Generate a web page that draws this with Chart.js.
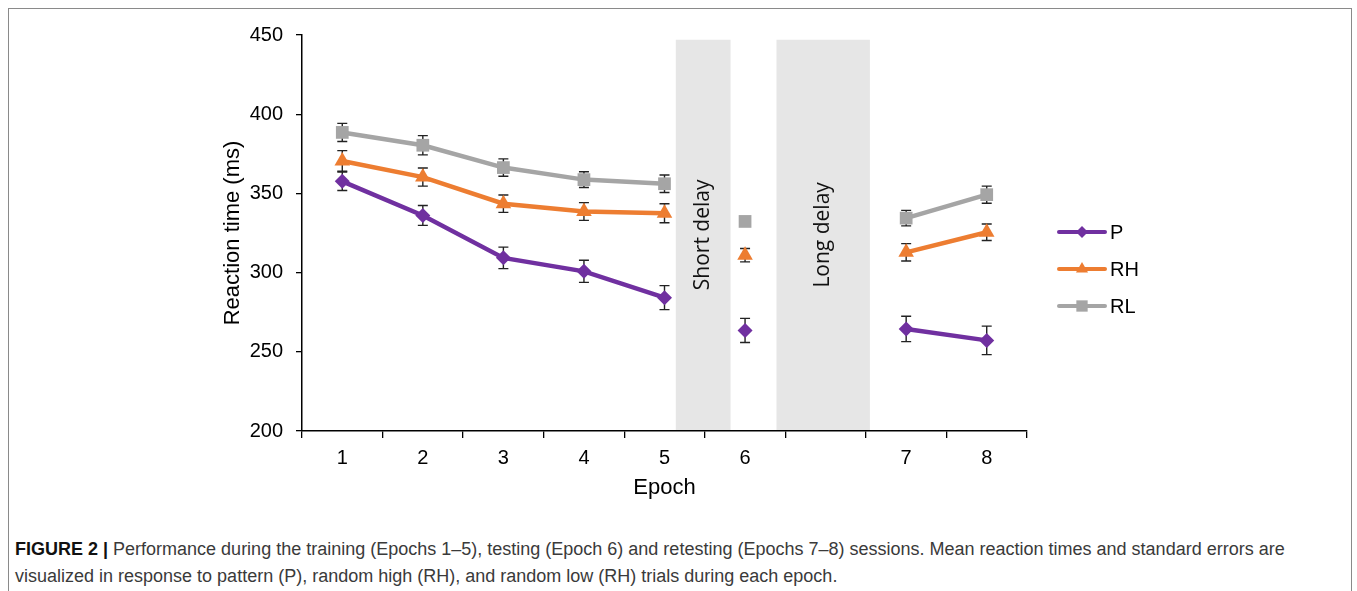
<!DOCTYPE html>
<html>
<head>
<meta charset="utf-8">
<script src="https://cdn.jsdelivr.net/npm/chart.js@4.4.1/dist/chart.umd.min.js"></script>
<style>
	html, body { margin: 0; padding: 0; background: #fff; }
	body { width: 1357px; height: 591px; position: relative; overflow: hidden; }
	#frame { position: absolute; left: 8px; top: 8px; width: 1344px; height: 620px; border: 1px solid #8a8a8a; box-sizing: border-box; }
	#chart-box { position: absolute; left: 0; top: 0; width: 1357px; height: 520px; }
	.caption { position: absolute; left: 15px; font: 18px "Liberation Sans", Arial, sans-serif; color: #3a3a3a; white-space: nowrap; line-height: 27px; }
	.caption b { color: #111; }
</style>
</head>
<body>
<div id="frame"></div>
<div id="chart-box"><canvas id="rt-chart"></canvas></div>
<div class="caption" style="top:536px"><b>FIGURE 2 |</b> Performance during the training (Epochs 1–5), testing (Epoch 6) and retesting (Epochs 7–8) sessions. Mean reaction times and standard errors are</div>
<div class="caption" style="top:563px">visualized in response to pattern (P), random high (RH), and random low (RH) trials during each epoch.</div>
<script>
const epochs = ['1', '2', '3', '4', '5', '6', '', '7', '8']
const sessions = ['train', 'train', 'train', 'train', 'train', 'test', null, 'retest', 'retest']

const pValues = [357.6, 336.1, 309.3, 300.8, 284.2, 263.5, null, 264.4, 257.2]
const pErrors = [5.8, 6.3, 6.8, 7.0, 7.6, 7.6, null, 8.0, 9.0]
const rhValues = [370.5, 360.3, 343.5, 338.6, 337.5, 311.0, null, 312.8, 325.5]
const rhErrors = [6.5, 5.7, 5.5, 5.6, 6.0, 4.2, null, 5.5, 5.2]
const rlValues = [388.5, 380.4, 366.3, 358.7, 356.1, 332.3, null, 334.4, 349.2]
const rlErrors = [5.7, 6.1, 5.5, 5.0, 5.5, 3.0, null, 4.9, 5.4]

// delay periods, in category index units
const delayLabels = ['Short delay', 'Long delay']
const delayStart = [4.14, 5.39]
const delayEnd = [4.82, 6.55]
const delayTop = 447

const yTicks = [200, 250, 300, 350, 400, 450]

const errors = [pErrors, rhErrors, rlErrors]

const makeSeries = (label, values, color, style, radius) => ({
	label: label,
	data: values,
	borderColor: color,
	backgroundColor: color,
	borderWidth: 4.5,
	pointStyle: style,
	pointRadius: radius,
	pointHoverRadius: radius,
	pointBorderWidth: 0,
	tension: 0,
	spanGaps: false,
	segment: {
		borderColor: (ctx) => sessions[ctx.p0DataIndex] !== sessions[ctx.p1DataIndex] ? 'rgba(0,0,0,0)' : undefined
	}
})

const backgroundPlugin = {
	id: 'delays',
	beforeDatasetsDraw(chart) {
		const { ctx, scales: { x, y } } = chart
		ctx.save()
		delayLabels.forEach((label, i) => {
			const left = x.getPixelForValue(delayStart[i])
			const right = x.getPixelForValue(delayEnd[i])
			const top = y.getPixelForValue(delayTop)
			const bottom = y.getPixelForValue(200) - 1
			ctx.fillStyle = '#e6e6e6'
			ctx.fillRect(left, top, right - left, bottom - top)
			ctx.save()
			ctx.translate((left + right) / 2, (top + bottom) / 2)
			ctx.rotate(-Math.PI / 2)
			ctx.fillStyle = '#111'
			ctx.font = '21px "Open Sans", "Noto Sans", sans-serif'
			ctx.textAlign = 'center'
			ctx.textBaseline = 'middle'
			ctx.fillText(label, 0, 0)
			ctx.restore()
		})
		// error bars
		ctx.strokeStyle = '#222'
		ctx.lineWidth = 1.4
		chart.data.datasets.forEach((ds, k) => {
			ds.data.forEach((v, i) => {
				if (v == null) return
				const e = errors[k][i]
				const px = x.getPixelForValue(i)
				const y1 = y.getPixelForValue(v - e)
				const y2 = y.getPixelForValue(v + e)
				ctx.beginPath()
				ctx.moveTo(px, y1)
				ctx.lineTo(px, y2)
				ctx.moveTo(px - 5, y1)
				ctx.lineTo(px + 5, y1)
				ctx.moveTo(px - 5, y2)
				ctx.lineTo(px + 5, y2)
				ctx.stroke()
			})
		})
		ctx.restore()
	}
}

const legendPlugin = {
	id: 'sideLegend',
	afterDraw(chart) {
		const { ctx, chartArea } = chart
		const legendRadius = [6, 7, 8]
		ctx.save()
		chart.data.datasets.forEach((ds, k) => {
			const x0 = chartArea.right + 32
			const yy = chartArea.top + 197 + k * 37
			ctx.strokeStyle = ds.borderColor
			ctx.lineWidth = 4
			ctx.lineCap = 'round'
			ctx.beginPath()
			ctx.moveTo(x0, yy)
			ctx.lineTo(x0 + 46, yy)
			ctx.stroke()
			ctx.fillStyle = ds.backgroundColor
			Chart.helpers.drawPoint(ctx, { pointStyle: ds.pointStyle, radius: legendRadius[k], rotation: 0, borderWidth: 0 }, x0 + 23, yy)
			ctx.fillStyle = '#000'
			ctx.font = '20px "Liberation Sans", Arial, sans-serif'
			ctx.textAlign = 'left'
			ctx.textBaseline = 'middle'
			ctx.fillText(ds.label, x0 + 51, yy + 1)
		})
		ctx.restore()
	}
}

const config = {
	type: 'line',
	data: {
		labels: epochs,
		datasets: [
			makeSeries('P', pValues, '#7030a0', 'rectRot', 7.5),
			makeSeries('RH', rhValues, '#ed7d31', 'triangle', 9),
			makeSeries('RL', rlValues, '#a5a5a5', 'rect', 9)
		]
	},
	options: {
		responsive: true,
		maintainAspectRatio: false,
		animation: false,
		layout: { padding: { left: 200, right: 330, top: 35, bottom: 9 } },
		plugins: {
			legend: { display: false },
			tooltip: { enabled: false }
		},
		scales: {
			x: {
				offset: true,
				afterFit: (scale) => { scale.height = 80 },
				grid: { offset: true, drawOnChartArea: false, drawTicks: true, tickLength: 7, color: '#000', lineWidth: 1.3 },
				border: { display: true, color: '#000', width: 1.5 },
				ticks: { color: '#000', padding: 8, autoSkip: false, maxRotation: 0, font: { family: '"Liberation Sans", Arial, sans-serif', size: 20 } },
				title: { display: true, text: 'Epoch', color: '#000', padding: { top: 0, bottom: 10 }, font: { family: '"Liberation Sans", Arial, sans-serif', size: 22 } }
			},
			y: {
				min: 200,
				max: 450,
				afterFit: (scale) => { scale.width = 102 },
				afterBuildTicks: (scale) => { scale.ticks = yTicks.map((v) => ({ value: v })) },
				grid: { drawOnChartArea: false, drawTicks: true, tickLength: 6, color: '#000', lineWidth: 1.3 },
				border: { display: true, color: '#000', width: 1.5 },
				ticks: { color: '#000', padding: 13, font: { family: '"Liberation Sans", Arial, sans-serif', size: 20 } },
				title: { display: true, text: 'Reaction time (ms)', color: '#000', padding: { top: 20, bottom: 0 }, font: { family: '"Liberation Sans", Arial, sans-serif', size: 22 } }
			}
		}
	},
	plugins: [backgroundPlugin, legendPlugin]
}

const ctx = document.querySelector('#rt-chart').getContext('2d')
const reactionChart = new Chart(ctx, config)
</script>
</body>
</html>
